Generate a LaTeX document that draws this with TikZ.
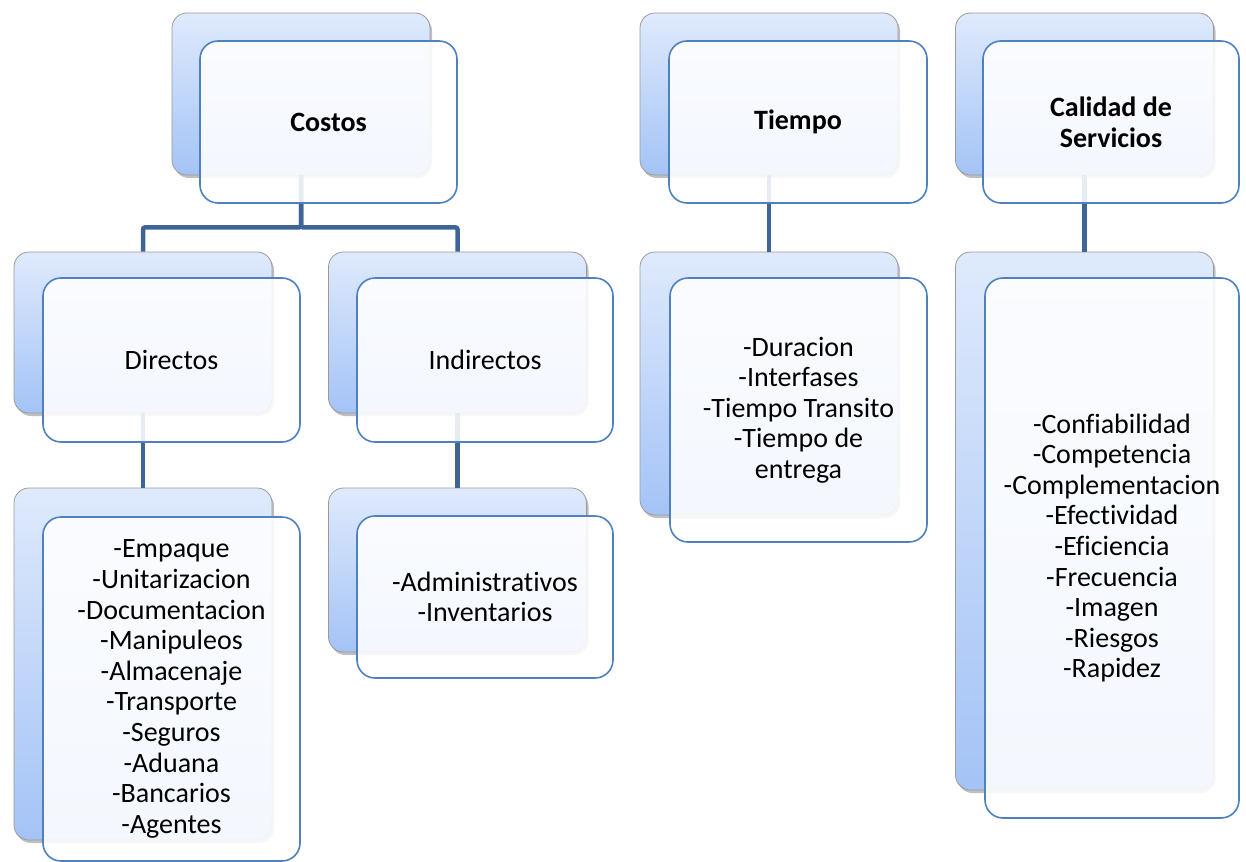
\documentclass[tikz,border=0pt]{standalone}
\usepackage{fontspec}
\setmainfont{Carlito}[Ligatures=NoCommon]
\usetikzlibrary{shadows}
\definecolor{backtop}{HTML}{DFEAFC}
\definecolor{backbot}{HTML}{A4C3F6}
\definecolor{frontline}{HTML}{4F81BD}
\definecolor{conn}{HTML}{3F6597}
\definecolor{backline}{HTML}{9A9A9A}
\tikzset{
  backbox/.style={draw=backline, line width=0.8pt, top color=backtop, bottom color=backbot,
    rounded corners=15pt, inner sep=0pt,
    drop shadow={shadow xshift=2pt, shadow yshift=-3pt, opacity=0.25, fill=black}},
  frontbox/.style={draw=frontline, line width=1.6pt, fill=white, fill opacity=0.88, text opacity=1,
    rounded corners=18pt, inner sep=0pt, align=center,
    font=\fontsize{28pt}{30.6pt}\selectfont},
  connector/.style={draw=conn, line width=4.5pt, rounded corners=2pt}
}
\begin{document}
\begin{tikzpicture}[x=1pt,y=-1pt]
\useasboundingbox (0,0) rectangle (1246,861);
% back boxes
\node[backbox, minimum width=258pt, minimum height=162pt] (B1) at (301,94) {};
\node[backbox, minimum width=258pt, minimum height=161pt] (B2) at (143,332.5) {};
\node[backbox, minimum width=258pt, minimum height=161pt] (B3) at (457.5,332.5) {};
\node[backbox, minimum width=258pt, minimum height=352pt] (B4) at (143,664) {};
\node[backbox, minimum width=258pt, minimum height=164pt] (B5) at (457.5,570) {};
\node[backbox, minimum width=258pt, minimum height=162pt] (B6) at (769,94) {};
\node[backbox, minimum width=258pt, minimum height=263pt] (B7) at (769,383.5) {};
\node[backbox, minimum width=258pt, minimum height=162pt] (B8) at (1084.5,94) {};
\node[backbox, minimum width=258pt, minimum height=538pt] (B9) at (1084.5,521) {};
% connectors
\draw[connector] (B1.south) -- ++(0,52) -| (B2.north);
\draw[connector] (B1.south) -- ++(0,52) -| (B3.north);
\draw[connector] (B2.south) -- (B4.north);
\draw[connector] (B3.south) -- (B5.north);
\draw[connector] (B6.south) -- (B7.north);
\draw[connector] (B8.south) -- (B9.north);
% front boxes
\node[frontbox, minimum width=257pt, minimum height=162pt] (F1) at (328.5,122) {\textbf{Costos}};
\node[frontbox, minimum width=257pt, minimum height=164pt] (F2) at (171.5,360) {Directos};
\node[frontbox, minimum width=256pt, minimum height=164pt] (F3) at (485,360) {Indirectos};
\node[frontbox, minimum width=257pt, minimum height=344pt] (F4) at (171.5,689) {-Empaque\\-Unitarizacion\\-Documentacion\\-Manipuleos\\-Almacenaje\\-Transporte\\-Seguros\\-Aduana\\-Bancarios\\-Agentes};
\node[frontbox, minimum width=256pt, minimum height=162pt] (F5) at (485,597) {-Administrativos\\-Inventarios};
\node[frontbox, minimum width=258pt, minimum height=162pt] (F6) at (798,122) {\textbf{Tiempo}};
\node[frontbox, minimum width=257pt, minimum height=264pt] (F7) at (798.5,410) {-Duracion\\-Interfases\\-Tiempo Transito\\-Tiempo de\\entrega};
\node[frontbox, minimum width=256pt, minimum height=162pt, font=\fontsize{28pt}{31pt}\selectfont\bfseries] (F8) at (1111,122) {Calidad de\\Servicios};
\node[frontbox, minimum width=254pt, minimum height=540pt] (F9) at (1112,548) {-Confiabilidad\\-Competencia\\-Complementacion\\-Efectividad\\-Eficiencia\\-Frecuencia\\-Imagen\\-Riesgos\\-Rapidez};
\end{tikzpicture}
\end{document}
